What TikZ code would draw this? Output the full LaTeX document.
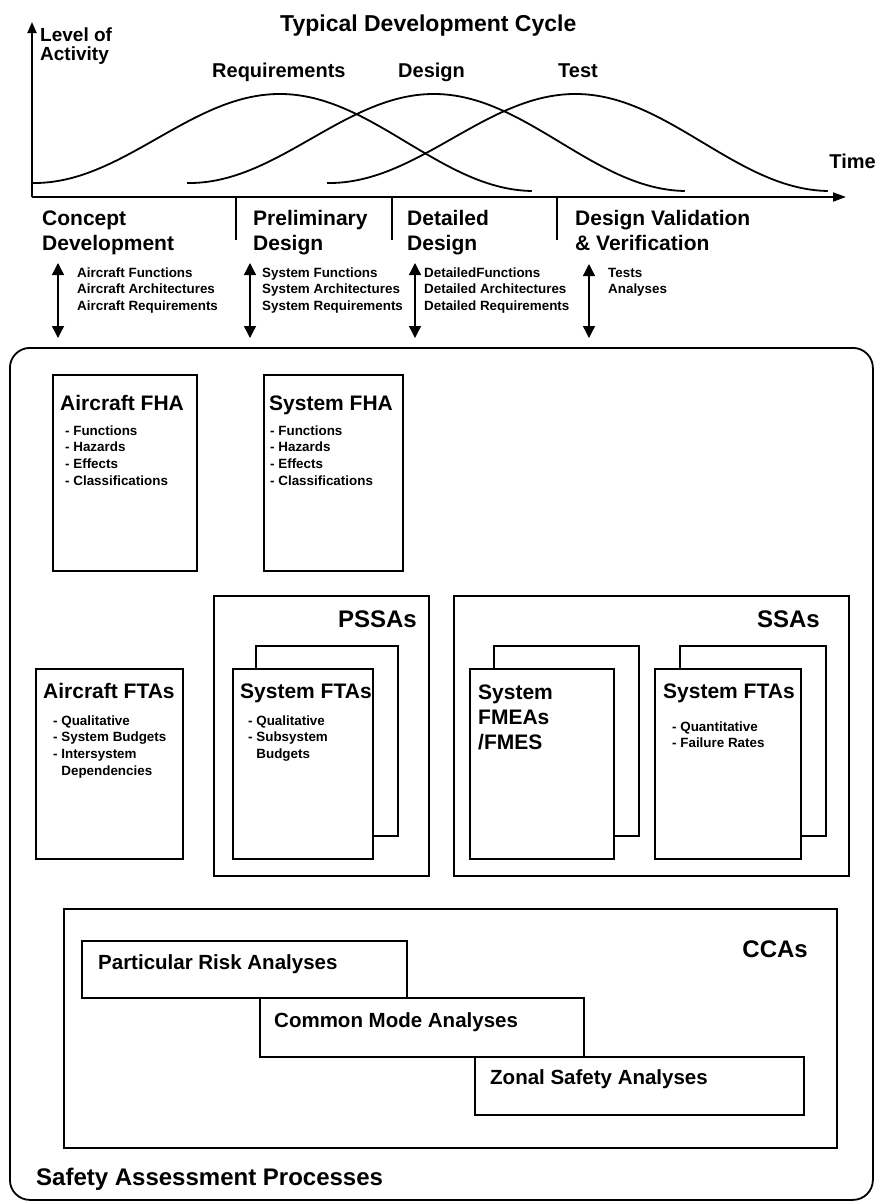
\documentclass[tikz,border=0pt]{standalone}
\usepackage{fontspec}
\setmainfont{Liberation Sans}
\usetikzlibrary{arrows.meta}
% left-aligned multi-line text whose baseline is that of its first line
\newcommand\stk[1]{\begin{tabular}[t]{@{}l@{}}#1\end{tabular}}
\newcommand\fs[2]{\fontsize{#1}{#2}\selectfont}

\begin{document}
\begin{tikzpicture}[x=1pt,y=-1pt,
  lbl/.style={inner sep=0pt, anchor=base west, font=\bfseries\fs{21}{25}},
  hdr/.style={inner sep=0pt, anchor=base east, font=\bfseries\fs{24}{28}},
  cca/.style={inner sep=0pt, anchor=base west, font=\bfseries\fs{20.5}{24}},
  note/.style={inner sep=0pt, anchor=base west, font=\bfseries\fs{13.4}{16.8}},
  curve/.style={line width=1.8pt},
  axis/.style={line width=1.8pt},
  tick/.style={line width=1.3pt},
  frame/.style={draw, line width=1.8pt, fill=white, inner sep=0pt, anchor=north west},
  dbl/.style={line width=1.4pt, {Triangle[length=12pt,width=12pt]}-{Triangle[length=12pt,width=12pt]}},
]
\useasboundingbox[fill=white] (0,0) rectangle (877,1203);

% ---------- development cycle chart ----------
\coordinate (origin) at (32,197);
\coordinate (ytop) at (32,22);
\coordinate (xend) at (846,197);
\draw[axis, -{Triangle[length=11pt,width=9pt]}] (origin) -- (ytop);
\draw[axis, -{Triangle[length=13pt,width=9pt]}] (origin) -- (xend);

% activity curves
\draw[curve] plot[domain=0:1, samples=90, smooth] ({32+500*\x},{183+8*\x-93*(1-cos(360*\x))/2});
\draw[curve] plot[domain=0:1, samples=90, smooth] ({187+498*\x},{183+8*\x-93*(1-cos(360*\x))/2});
\draw[curve] plot[domain=0:1, samples=90, smooth] ({327+501*\x},{183+8*\x-93*(1-cos(360*\x))/2});

\node[lbl, font=\bfseries\fs{23}{27}] (title) at (280,31.5) {Typical Development Cycle};
\node[lbl, font=\bfseries\fs{19}{17.5}] (level) at (40,41) {\stk{Level of\\Activity}};
\node[lbl, font=\bfseries\fs{20}{24}] (req) at (212,77.5) {Requirements};
\node[lbl, font=\bfseries\fs{20}{24}] (des) at (398,77.5) {Design};
\node[lbl, font=\bfseries\fs{20}{24}] (tst) at (558,77.5) {Test};
\node[lbl, anchor=base east, font=\bfseries\fs{20}{24}] (time) at (876,168) {Time};

% phase separators
\coordinate (t1a) at (236,197); \coordinate (t1b) at (236,240);
\coordinate (t2a) at (392,197); \coordinate (t2b) at (392,240);
\coordinate (t3a) at (557,197); \coordinate (t3b) at (557,240);
\draw[tick] (t1a) -- (t1b);
\draw[tick] (t2a) -- (t2b);
\draw[tick] (t3a) -- (t3b);

\node[lbl] (ph1) at (42,225) {\stk{Concept\\Development}};
\node[lbl] (ph2) at (253,225) {\stk{Preliminary\\Design}};
\node[lbl] (ph3) at (407,225) {\stk{Detailed\\Design}};
\node[lbl] (ph4) at (575,225) {\stk{Design Validation\\\& Verification}};

% exchanges between the phases and the safety processes
\coordinate (a1t) at (58,263);  \coordinate (a1b) at (58,338);
\coordinate (a2t) at (250,263); \coordinate (a2b) at (250,338);
\coordinate (a3t) at (415,263); \coordinate (a3b) at (415,338);
\coordinate (a4t) at (589,264); \coordinate (a4b) at (589,338);
\draw[dbl] (a1t) -- (a1b);
\draw[dbl] (a2t) -- (a2b);
\draw[dbl] (a3t) -- (a3b);
\draw[dbl] (a4t) -- (a4b);

\node[note] (n1) at (77,277) {\stk{Aircraft Functions\\Aircraft Architectures\\Aircraft Requirements}};
\node[note] (n2) at (262,277) {\stk{System Functions\\System Architectures\\System Requirements}};
\node[note] (n3) at (424,277) {\stk{DetailedFunctions\\Detailed Architectures\\Detailed Requirements}};
\node[note] (n4) at (608,277) {\stk{Tests\\Analyses}};

% ---------- safety assessment processes ----------
\node[frame, fill=none, rounded corners=20pt, minimum width=863pt, minimum height=852pt] (sap) at (9,347) {};

% functional hazard assessments
\node[frame, minimum width=144pt, minimum height=196pt] (afha) at (52,374) {};
\node[lbl] (afhat) at (60,410) {Aircraft FHA};
\node[note] (afhab) at (65,435) {\stk{- Functions\\- Hazards\\- Effects\\- Classifications}};

\node[frame, minimum width=139pt, minimum height=196pt] (sfha) at (263,374) {};
\node[lbl] (sfhat) at (269,410) {System FHA};
\node[note] (sfhab) at (270,435) {\stk{- Functions\\- Hazards\\- Effects\\- Classifications}};

% aircraft fault trees
\node[frame, minimum width=147pt, minimum height=190pt] (afta) at (35,668) {};
\node[lbl] (aftat) at (43,698) {Aircraft FTAs};
\node[note] (aftab) at (53,725) {\stk{- Qualitative\\- System Budgets\\- Intersystem\\\hphantom{- }Dependencies}};

% preliminary system safety assessments
\node[frame, minimum width=215pt, minimum height=280pt] (pssa) at (213,595) {};
\node[hdr] (pssat) at (417,627) {PSSAs};
\node[frame, minimum width=142pt, minimum height=190pt] (pftaback) at (255,645) {};
\node[frame, minimum width=140pt, minimum height=190pt] (pfta) at (232,668) {};
\node[lbl] (pftat) at (240,698) {System FTAs};
\node[note] (pftab) at (248,725) {\stk{- Qualitative\\- Subsystem\\\hphantom{- }Budgets}};

% system safety assessments
\node[frame, minimum width=395pt, minimum height=280pt] (ssa) at (453,595) {};
\node[hdr] (ssat) at (820,627) {SSAs};
\node[frame, minimum width=145pt, minimum height=190pt] (fmeaback) at (493,645) {};
\node[frame, minimum width=144pt, minimum height=190pt] (fmea) at (469,668) {};
\node[lbl] (fmeat) at (478,699) {\stk{System\\FMEAs\\/FMES}};
\node[frame, minimum width=146pt, minimum height=190pt] (sftaback) at (679,645) {};
\node[frame, minimum width=146pt, minimum height=190pt] (sfta) at (654,668) {};
\node[lbl] (sftat) at (663,698) {System FTAs};
\node[note] (sftab) at (672,731) {\stk{- Quantitative\\- Failure Rates}};

% common cause analyses
\node[frame, minimum width=773pt, minimum height=239pt] (ccabox) at (63,908) {};
\node[hdr] (ccat) at (808,957) {CCAs};
\node[frame, minimum width=325pt, minimum height=57pt] (pra) at (81,940) {};
\node[cca] (prat) at (98,969.5) {Particular Risk Analyses};
\node[frame, minimum width=324pt, minimum height=59pt] (cma) at (259,997) {};
\node[cca] (cmat) at (274,1027) {Common Mode Analyses};
\node[frame, minimum width=329pt, minimum height=58pt] (zsa) at (474,1056) {};
\node[cca] (zsat) at (490,1084) {Zonal Safety Analyses};

\node[lbl, font=\bfseries\fs{24}{28}] (sapt) at (36,1185) {Safety Assessment Processes};
\end{tikzpicture}
\end{document}
